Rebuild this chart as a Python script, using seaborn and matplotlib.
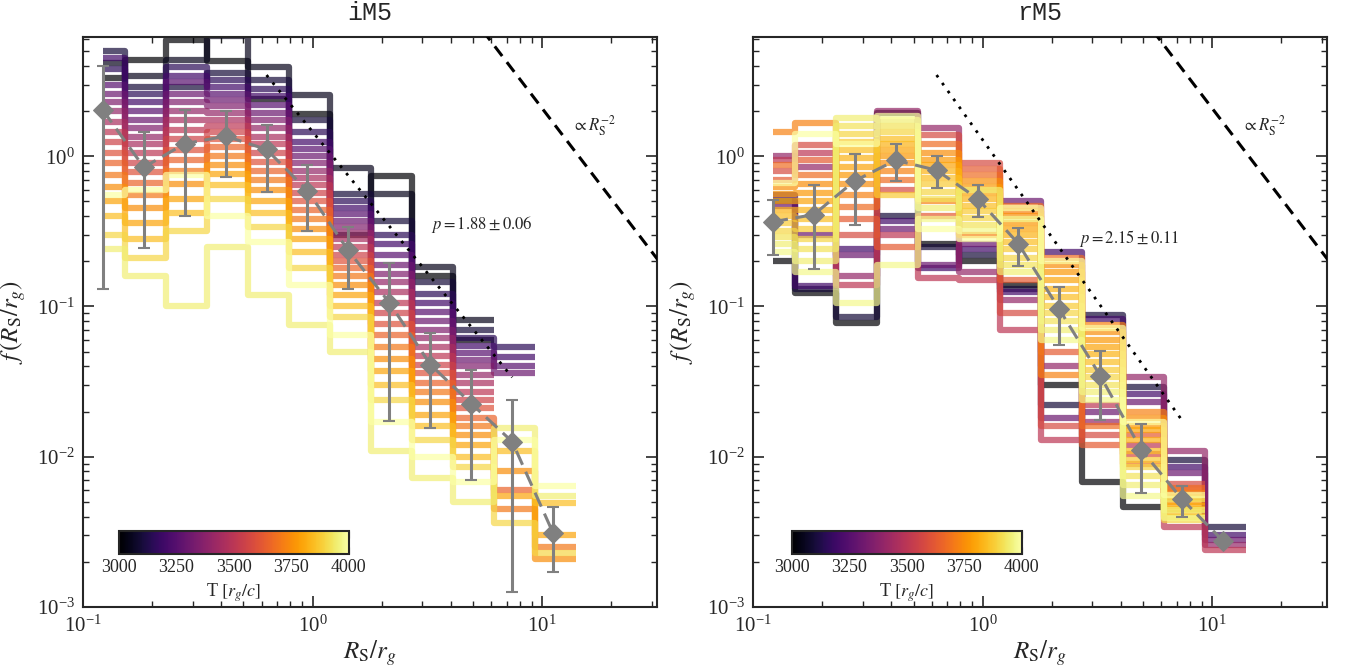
import numpy as np
import pandas as pd
import matplotlib
matplotlib.use('Agg')
import matplotlib.pyplot as plt
import matplotlib.ticker as ticker
from matplotlib.colors import Normalize
from matplotlib.cm import ScalarMappable
import seaborn as sns

nan = np.nan

# radial bin centres (R_S / r_g) and one empty overflow bin that only closes the last step
r_centers = [0.122, 0.184, 0.277, 0.418, 0.63, 0.95, 1.43, 2.16, 3.26, 4.91, 7.4, 11.16]
r_overflow = 16.8

# snapshot times [r_g/c] of the curves drawn in each panel
im5_times = [3000, 3050, 3100, 3150, 3200, 3250, 3300, 3350, 3400, 3450, 3500,
             3550, 3600, 3650, 3700, 3750, 3800, 3850, 3900, 3950, 4000]
rm5_times = [3000, 3100, 3200, 3300, 3400, 3500, 3575, 3625, 3675, 3725, 3750,
             3775, 3800, 3825, 3850, 3875, 3900, 3925, 3950, 3975, 4000]

# iM5: f(R_S/r_g) per radial bin, one value per snapshot time
im5_f = [
    [3.3, 4.2, 5.0, 3.8, 4.5, 3.0, 2.6, 2.3, 2.0, 1.7, 1.45, 1.25, 1.05, 0.9, 0.75, 0.62, 0.5, 0.4, 0.3, 0.24, 0.55],
    [4.4, 3.4, 2.9, 2.6, 2.3, 2.0, 1.75, 1.55, 1.35, 1.2, 1.05, 0.9, 0.78, 0.66, 0.55, 0.45, 0.36, 0.28, 0.21, 0.16, 0.6],
    [5.9, 4.4, 2.9, 3.9, 3.4, 3.1, 2.6, 2.3, 2.0, 1.75, 1.5, 1.3, 1.1, 0.95, 0.8, 0.65, 0.52, 0.42, 0.32, 0.1, 0.75],
    [4.3, 6.3, 3.6, 3.2, 2.9, 2.6, 2.35, 2.15, 1.95, 1.75, 1.6, 1.45, 1.3, 1.15, 1.0, 0.88, 0.76, 0.64, 0.52, 0.25, 0.4],
    [2.4, 3.9, 3.2, 2.8, 2.5, 2.2, 1.95, 1.75, 1.55, 1.35, 1.2, 1.05, 0.92, 0.8, 0.7, 0.6, 0.5, 0.42, 0.34, 0.12, 0.27],
    [1.9, 2.55, 1.75, 1.45, 1.25, 1.12, 1.0, 0.9, 0.8, 0.72, 0.64, 0.57, 0.5, 0.44, 0.38, 0.33, 0.28, 0.23, 0.18, 0.075, 0.14],
    [0.3, 0.84, 0.56, 0.5, 0.45, 0.41, 0.37, 0.34, 0.31, 0.28, 0.25, 0.22, 0.2, 0.18, 0.16, 0.14, 0.12, 0.1, 0.085, 0.05, 0.065],
    [0.74, 0.56, 0.37, 0.3, 0.26, 0.22, 0.19, 0.165, 0.145, 0.125, 0.105, 0.09, 0.077, 0.065, 0.054, 0.045, 0.037, 0.03, 0.024, 0.011, 0.017],
    [0.16, 0.183, 0.146, 0.122, 0.105, 0.092, 0.08, 0.07, 0.062, 0.054, 0.047, 0.041, 0.036, 0.031, 0.027, 0.023, 0.019, 0.016, 0.013, 0.0072, 0.01],
    [0.06, 0.081, 0.07, 0.062, 0.055, 0.049, 0.044, 0.04, 0.035, 0.031, 0.027, 0.024, 0.021, 0.018, 0.016, 0.014, 0.012, 0.01, 0.0085, 0.005, 0.0068],
    [nan, nan, nan, 0.054, 0.046, 0.04, 0.036, nan, nan, nan, nan, nan, nan, 0.006, 0.0045, 0.008, 0.0055, 0.011, 0.0036, 0.0155, 0.013],
    [nan, nan, nan, nan, nan, nan, nan, nan, nan, nan, nan, nan, nan, nan, 0.0025, 0.0021, 0.003, 0.0049, 0.0023, 0.0055, 0.0064],
]

# rM5: same layout
rm5_f = [
    [0.2, 0.5, 0.55, 0.47, 1.0, 0.95, 0.8, 0.7, 0.87, 1.44, 0.62, 0.56, 0.5, 0.44, 0.4, 0.36, 0.32, 0.29, 0.26, 0.23, 0.66],
    [0.123, 0.13, 0.136, 0.3, 0.85, 1.05, 1.18, 0.95, 0.75, 1.66, 0.65, 0.57, 0.5, 0.44, 0.38, 0.33, 0.28, 0.24, 0.2, 0.17, 1.4],
    [0.078, 0.085, 0.24, 0.22, 0.16, 0.14, 0.3, 0.38, 0.46, 0.55, 0.65, 0.75, 0.85, 0.97, 1.1, 1.25, 1.4, 1.6, 1.8, 0.105, 1.2],
    [1.93, 0.4, 0.37, 0.33, 2.0, 0.3, 0.6, 0.25, 0.7, 0.8, 0.9, 1.0, 1.1, 1.2, 1.3, 0.55, 1.45, 1.6, 1.75, 0.19, 1.85],
    [0.26, 0.25, 0.18, 0.19, 1.53, 0.154, 1.38, 0.4, 1.2, 0.5, 1.05, 0.95, 0.88, 0.8, 0.72, 0.65, 0.58, 0.52, 0.45, 0.38, 0.33],
    [0.2, 0.22, 0.24, 0.26, 0.17, 0.15, 0.9, 0.82, 0.75, 0.3, 0.68, 0.62, 0.57, 0.52, 0.47, 0.43, 0.39, 0.35, 0.6, 0.32, 0.28],
    [0.14, 0.13, 0.125, 0.5, 0.11, 0.07, 0.09, 0.15, 0.47, 0.43, 0.4, 0.36, 0.33, 0.3, 0.27, 0.24, 0.21, 0.19, 0.17, 0.38, 0.45],
    [0.03, 0.022, 0.23, 0.018, 0.04, 0.013, 0.016, 0.05, 0.21, 0.035, 0.19, 0.17, 0.15, 0.13, 0.115, 0.1, 0.09, 0.08, 0.07, 0.06, 0.2],
    [0.0068, 0.088, 0.083, 0.02, 0.017, 0.022, 0.014, 0.012, 0.016, 0.075, 0.068, 0.06, 0.054, 0.048, 0.043, 0.038, 0.034, 0.03, 0.027, 0.024, 0.072],
    [0.0046, 0.029, 0.026, 0.023, 0.034, 0.012, 0.0105, 0.014, 0.009, 0.02, 0.018, 0.016, 0.015, 0.013, 0.011, 0.0095, 0.0085, 0.0075, 0.0065, 0.0055, 0.017],
    [nan, 0.0095, 0.0085, 0.0078, 0.011, 0.0034, 0.0066, 0.006, 0.0062, 0.0057, 0.0054, 0.005, 0.0047, 0.0045, 0.0042, 0.004, 0.0038, 0.0052, 0.0044, 0.0039, 0.0056],
    [nan, 0.0034, 0.003, 0.0028, 0.0026, 0.0024, nan, nan, nan, nan, nan, nan, nan, nan, nan, nan, nan, nan, nan, nan, nan],
]

# time-averaged profile and spread (gray diamonds + error bars)
im5_mean = [2.03, 0.845, 1.21, 1.36, 1.11, 0.59, 0.236, 0.106, 0.041, 0.0226, 0.0126, 0.0031]
im5_hi = [3.98, 1.44, 2.03, 2.0, 1.62, 0.87, 0.336, 0.195, 0.067, 0.038, 0.024, 0.0046]
im5_lo = [0.13, 0.244, 0.40, 0.73, 0.58, 0.32, 0.13, 0.0174, 0.0155, 0.0070, 0.00126, 0.0017]

rm5_mean = [0.366, 0.409, 0.685, 0.94, 0.807, 0.523, 0.262, 0.0955, 0.0344, 0.0111, 0.0052, 0.00275]
rm5_hi = [0.515, 0.648, 1.03, 1.21, 1.0, 0.641, 0.335, 0.135, 0.0504, 0.0165, 0.0064, 0.0029]
rm5_lo = [0.219, 0.177, 0.347, 0.685, 0.616, 0.395, 0.185, 0.0555, 0.0175, 0.0057, 0.004, 0.0026]

# power-law fits f = A * R^-p over the bins 0.63 .. 7.4
fit_range = [0.63, 7.4]
im5_fit = {'A': 1.455, 'p': 1.88, 'err': 0.06}
rm5_fit = {'A': 1.285, 'p': 2.15, 'err': 0.11}
ref_norm = 208.0  # normalisation of the R^-2 guide line

sns.set_style('ticks')
plt.rcParams['font.family'] = ['serif']
plt.rcParams['font.serif'] = ['Liberation Serif', 'DejaVu Serif']
plt.rcParams['mathtext.fontset'] = 'stix'

cmap = sns.color_palette('inferno', as_cmap=True)
norm = Normalize(3000, 4000)

fig = plt.figure(figsize=(13.49, 6.72), dpi=100)
ax1 = fig.add_axes([0.0615, 0.0967, 0.4255, 0.848])
ax2 = fig.add_axes([0.5582, 0.0967, 0.4255, 0.848])


def draw_panel(ax, snaps, times, mean, lo, hi, fit, title, p_xy, cbar_x):
    x = np.array(r_centers + [r_overflow])
    # one step curve per snapshot, earliest first so the late ones sit on top
    for j, T in enumerate(times):
        y = np.array([snaps[i][j] for i in range(len(r_centers))] + [nan])
        ax.plot(x, y, drawstyle='steps-mid', color=cmap(norm(T)), lw=4.5, alpha=0.7,
                solid_capstyle='butt', zorder=2)

    mean = np.array(mean)
    yerr = [mean - np.array(lo), np.array(hi) - mean]
    ax.errorbar(r_centers, mean, yerr=yerr, fmt='none', ecolor='gray', elinewidth=2.2,
                capsize=4, capthick=1.5, zorder=4)
    df_mean = pd.DataFrame({'r': r_centers, 'f': mean})
    sns.lineplot(data=df_mean, x='r', y='f', ax=ax, color='gray', lw=2.2,
                 linestyle=(0, (5, 2.5)), marker='D', markersize=10,
                 markeredgecolor='gray', zorder=5)

    xf = np.array(fit_range)
    ax.plot(xf, fit['A'] * xf ** (-fit['p']), color='k', lw=2, linestyle=(0, (1, 2.5)), zorder=3)
    xr = np.array([3.0, 40.0])
    ax.plot(xr, ref_norm * xr ** -2, color='k', lw=2.2, linestyle=(0, (4, 2.5)), zorder=3)

    ax.text(p_xy[0], p_xy[1], r'$p = %.2f \pm %.2f$' % (fit['p'], fit['err']),
            fontsize=12, ha='left', va='center')
    ax.text(13.5, 1.6, r'$\propto R_{\rm S}^{-2}$', fontsize=12, ha='left', va='center')

    ax.set_xscale('log')
    ax.set_yscale('log')
    ax.set_xlim(0.1, 31.6)
    ax.set_ylim(1e-3, 6.2)
    ax.set_xlabel(r'$R_{\rm S}/r_g$', fontsize=18, labelpad=1)
    ax.set_ylabel(r'$f\,(R_{\rm S}/r_g)$', fontsize=18, labelpad=6)
    ax.set_title(title, fontsize=18, family='Liberation Mono', pad=12)
    ax.tick_params(which='both', direction='in', top=True, right=True, labelsize=15)
    ax.tick_params(axis='x', pad=6)
    ax.tick_params(axis='y', pad=6)
    ax.tick_params(which='major', length=8, width=1.2)
    ax.tick_params(which='minor', length=4, width=1)
    ax.xaxis.set_minor_locator(ticker.LogLocator(base=10, subs=np.arange(2, 10), numticks=20))
    ax.yaxis.set_minor_locator(ticker.LogLocator(base=10, subs=np.arange(2, 10), numticks=20))
    ax.xaxis.set_minor_formatter(ticker.NullFormatter())
    ax.yaxis.set_minor_formatter(ticker.NullFormatter())
    for s in ax.spines.values():
        s.set_linewidth(1.5)

    cax = ax.inset_axes([cbar_x, 0.093, 0.40, 0.04])
    cb = fig.colorbar(ScalarMappable(norm=norm, cmap=cmap), cax=cax, orientation='horizontal')
    cb.set_ticks([3000, 3250, 3500, 3750, 4000])
    cb.ax.xaxis.set_minor_locator(ticker.MultipleLocator(25))
    cb.ax.tick_params(which='both', direction='in', top=True, bottom=True, labelsize=13)
    cb.ax.tick_params(which='major', length=5)
    cb.ax.tick_params(which='minor', length=2.5)
    cb.outline.set_linewidth(1.5)
    cb.set_label(r'T $[r_g/c]$', fontsize=13, labelpad=4)


draw_panel(ax1, im5_f, im5_times, im5_mean, im5_lo, im5_hi, im5_fit, 'iM5', (3.27, 0.353), 0.063)
draw_panel(ax2, rm5_f, rm5_times, rm5_mean, rm5_lo, rm5_hi, rm5_fit, 'rM5', (2.63, 0.285), 0.068)

fig.savefig('out.png', dpi=100)
